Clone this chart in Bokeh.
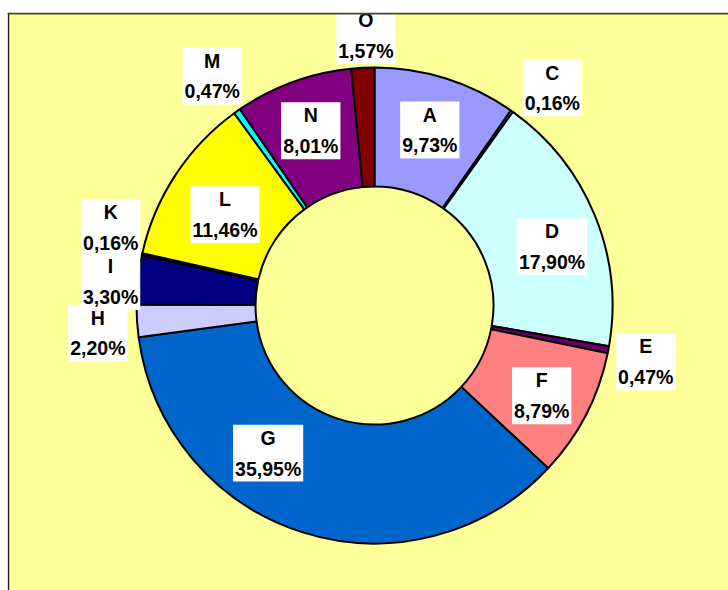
import math
from bokeh.plotting import figure
from bokeh.models import ColumnDataSource, Range1d, Span
from bokeh.core.properties import value
from bokeh.embed import file_html
from bokeh.resources import INLINE

# ---- data ----
categories = ["A", "C", "D", "E", "F", "G", "H", "I", "K", "L", "M", "N", "O"]
shares = [9.73, 0.16, 17.90, 0.47, 8.79, 35.95, 2.20, 3.30, 0.16, 11.46, 0.47, 8.01, 1.57]
share_labels = ["9,73%", "0,16%", "17,90%", "0,47%", "8,79%", "35,95%", "2,20%",
                "3,30%", "0,16%", "11,46%", "0,47%", "8,01%", "1,57%"]
colors = ["#9999FF", "#FFFFCC", "#CCFFFF", "#660066", "#FF8080", "#0066CC", "#CCCCFF",
          "#000080", "#FF00FF", "#FFFF00", "#00FFFF", "#800080", "#800000"]

# label placement (style): distance from centre and angular nudge in degrees
label_radius = [184, 281, 187, 277, 190, 182, 278, 265, 275, 175, 281, 186, 270]
label_nudge = [0, 4, 4, 1, 1, 18, -2, -1, 4, -2, 0, 0, 1]

CX, CY = 374, -305
R_OUT, R_IN = 238, 119

total = sum(shares)
starts, ends, lx, ly, texts = [], [], [], [], []
cum = 0.0
for i, v in enumerate(shares):
    a0 = cum / total * 2 * math.pi
    cum += v
    a1 = cum / total * 2 * math.pi
    starts.append(math.pi / 2 - a0)
    ends.append(math.pi / 2 - a1)
    mid = (a0 + a1) / 2 + math.radians(label_nudge[i])
    lx.append(CX + label_radius[i] * math.sin(mid))
    ly.append(CY + label_radius[i] * math.cos(mid))
    texts.append(categories[i] + "\n" + share_labels[i])

src = ColumnDataSource(dict(start=starts, end=ends, color=colors, cat=categories))
lsrc = ColumnDataSource(dict(x=lx, y=ly, text=texts))

p = figure(width=728, height=590, output_backend="svg", toolbar_location=None,
           x_range=Range1d(7, 728), y_range=Range1d(-590, -12),
           min_border_left=7, min_border_right=0, min_border_top=12, min_border_bottom=0)
p.axis.visible = False
p.grid.visible = False
p.background_fill_color = "#FFFF99"
p.border_fill_color = "white"
p.outline_line_color = None

p.add_layout(Span(location=8, dimension="height", line_color="#222222", line_width=1.5))
p.add_layout(Span(location=-13, dimension="width", line_color="#444444", line_width=2))

p.annular_wedge(x=CX, y=CY, inner_radius=R_IN, outer_radius=R_OUT,
                start_angle="start", end_angle="end", direction="clock",
                fill_color="color", line_color="black", line_width=2, source=src)

p.text(x="x", y="y", text="text", source=lsrc,
       text_font=value("Liberation Sans"), text_font_style="bold",
       text_font_size="19.5px", text_color="black",
       text_align="center", text_baseline="middle", text_line_height=1.4,
       background_fill_color="white", padding=2)

open("out.html", "w").write(file_html(p, INLINE))
